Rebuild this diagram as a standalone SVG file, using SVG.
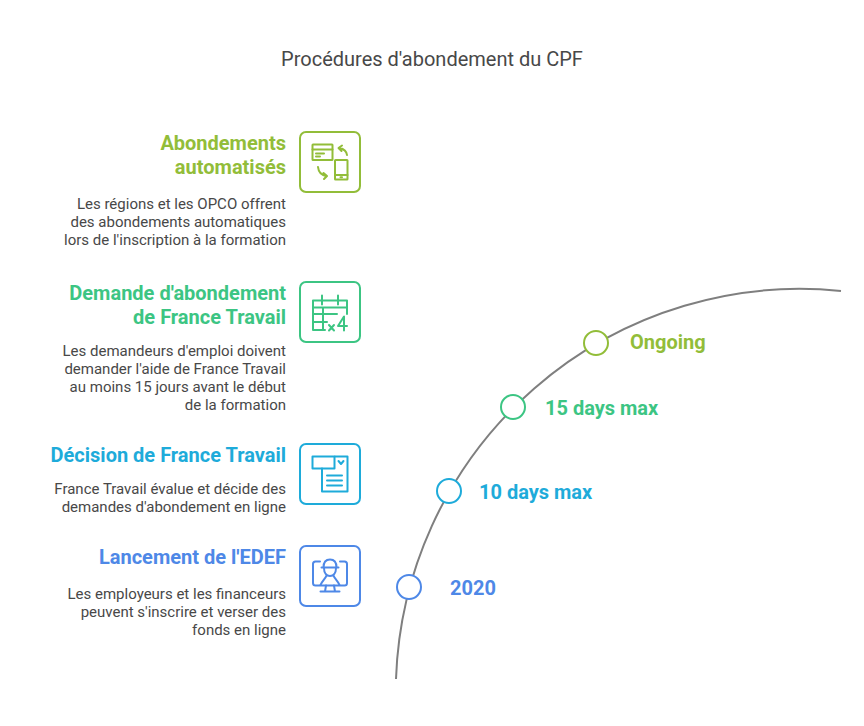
<svg xmlns="http://www.w3.org/2000/svg" width="864" height="726" viewBox="0 0 864 726">
<style>
text{font-family:Roboto,"Liberation Sans",sans-serif}
.title{font-size:20px;fill:#484848}
.head{font-size:20px;font-weight:700;text-anchor:end}
.desc{font-size:15px;fill:#484848;text-anchor:end}
.lab{font-size:20px;font-weight:700}
.box{fill:#fff;stroke-width:2}
.ic{fill:none;stroke-width:2;stroke-linecap:round;stroke-linejoin:round}
.dot{fill:#fff;stroke-width:2}
.g1{stroke:#92bd39}.g2{stroke:#3cc583}.g3{stroke:#1eabda}.g4{stroke:#4e88e7}
.t1{fill:#92bd39}.t2{fill:#3cc583}.t3{fill:#1eabda}.t4{fill:#4e88e7}
</style>
<rect width="864" height="726" fill="#fff"/>
<text class="title" x="432" y="66" text-anchor="middle">Procédures d'abondement du CPF</text>
<g id="connectors"><path d="M396 679A404 404 0 0 1 841 291" fill="none" stroke="#7f7f7f" stroke-width="2"/></g>
<g id="node-abondements">
<text class="head t1" x="286" y="150">Abondements</text>
<text class="head t1" x="286" y="174">automatisés</text>
<text class="desc" x="286" y="209">Les régions et les OPCO offrent</text>
<text class="desc" x="286" y="227">des abondements automatiques</text>
<text class="desc" x="286" y="245">lors de l'inscription à la formation</text>
<rect class="box g1" x="300" y="132" width="60" height="60" rx="6"/>
<g class="ic g1">
<rect x="312.500" y="144.500" width="20" height="15.500" rx="0.500"/><path d="M312.500 149.500H332.500M316 153.500H324M316 156.500H320"/>
<rect x="335" y="160" width="12.500" height="19.500" rx="0.500"/><path d="M335 175H347.500M340.500 177.200H342"/>
<path d="M347 155C346.500 151 344 149 339.500 148M342 145.500L338.500 148L341.500 151"/>
<path d="M318 167C318.500 172 321 175 326 176M323.500 173L327 176L324 179"/>
</g>
<circle class="dot g1" cx="596" cy="343" r="12"/>
<text class="lab t1" x="630" y="349">Ongoing</text>
</g>
<g id="node-demande">
<text class="head t2" x="286" y="300">Demande d'abondement</text>
<text class="head t2" x="286" y="324">de France Travail</text>
<text class="desc" x="286" y="356">Les demandeurs d'emploi doivent</text>
<text class="desc" x="286" y="374">demander l'aide de France Travail</text>
<text class="desc" x="286" y="392">au moins 15 jours avant le début</text>
<text class="desc" x="286" y="410">de la formation</text>
<rect class="box g2" x="300" y="282" width="60" height="60" rx="6"/>
<g class="ic g2">
<path d="M347 314V300.500H313V330H325"/><path d="M313 307.500H347M322 295.500V304.500M338 295.500V304.500M323 307.500V330M313 314H337M313 322H327"/>
<path d="M329 325L334 330.500M334 325L329 330.500"/>
<path d="M344 330.500V316.500L338 326H347"/>
</g>
<circle class="dot g2" cx="513" cy="407" r="12"/>
<text class="lab t2" x="545" y="415">15 days max</text>
</g>
<g id="node-decision">
<text class="head t3" x="286" y="462">Décision de France Travail</text>
<text class="desc" x="286" y="494">France Travail évalue et décide des</text>
<text class="desc" x="286" y="512">demandes d'abondement en ligne</text>
<rect class="box g3" x="300" y="444" width="60" height="60" rx="6"/>
<g class="ic g3">
<path d="M322 468.500V491.500H347.500V456.500H335"/>
<rect x="312.500" y="456.500" width="22" height="12"/>
<path d="M338.500 461L341 464L343.500 461M327 475.500H342M327 480.500H342M327 485.500H342"/>
</g>
<circle class="dot g3" cx="449" cy="491" r="12"/>
<text class="lab t3" x="479" y="499">10 days max</text>
</g>
<g id="node-lancement">
<text class="head t4" x="286" y="564">Lancement de l'EDEF</text>
<text class="desc" x="286" y="599">Les employeurs et les financeurs</text>
<text class="desc" x="286" y="617">peuvent s'inscrire et verser des</text>
<text class="desc" x="286" y="635">fonds en ligne</text>
<rect class="box g4" x="300" y="546" width="60" height="60" rx="6"/>
<g class="ic g4">
<path d="M320 561.500H315.500Q313 561.500 313 564V583Q313 585.500 315.500 585.500H344.500Q347 585.500 347 583V564Q347 561.500 344.500 561.500H340"/>
<path d="M326 585.500L325 591.500M334 585.500L335 591.500M320.500 591.500H339.500"/>
<path d="M323.500 567.500C323.500 562.500 326 559.500 330 559.500C334 559.500 336.500 562.500 336.500 567.500M321.500 567.500H338.500M324 568C324 573 326.500 576 330 576C333.500 576 336 573 336 568"/>
<path d="M326.500 575.500C325.500 578.500 323 580 320.500 585M333.500 575.500C334.500 578.500 337 580 339.500 585"/>
</g>
<circle class="dot g4" cx="409" cy="587" r="12"/>
<text class="lab t4" x="450" y="595">2020</text>
</g>
</svg>
